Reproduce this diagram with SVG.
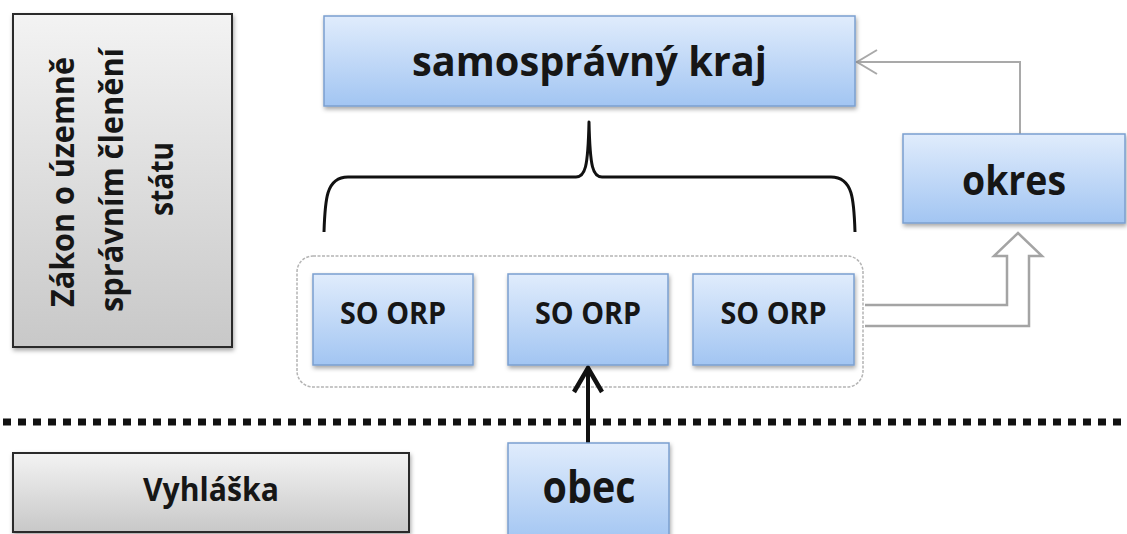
<svg xmlns="http://www.w3.org/2000/svg" width="1127" height="534" viewBox="0 0 1127 534">
<style>
.blue{fill:url(#gBlue);stroke:#7b9fcf;stroke-width:1.5;filter:url(#sh)}
.gray{fill:url(#gGray);stroke:#2b2b2b;stroke-width:2;filter:url(#sh)}
text{font-family:"Open Sans","Liberation Sans",sans-serif;font-weight:bold;fill:#161616;text-anchor:middle}
.conn{fill:none}
</style>
<defs>
<linearGradient id="gBlue" x1="0" y1="0" x2="0" y2="1">
<stop offset="0" stop-color="#e0ecfc"/>
<stop offset="1" stop-color="#a2c5f2"/>
</linearGradient>
<linearGradient id="gGray" x1="0" y1="0" x2="0" y2="1">
<stop offset="0" stop-color="#f3f3f3"/>
<stop offset="1" stop-color="#c8c8c8"/>
</linearGradient>
<filter id="sh" x="-10%" y="-10%" width="120%" height="130%">
<feDropShadow dx="1" dy="2.5" stdDeviation="2" flood-color="#000" flood-opacity="0.35"/>
</filter>
<marker id="arrBlack" markerUnits="userSpaceOnUse" markerWidth="36" markerHeight="36" viewBox="-30 -18 36 36" refX="0" refY="0" orient="auto">
<path d="M-24 -14 L0 0 L-24 14" fill="none" stroke="#111" stroke-width="4.5"/>
</marker>
<marker id="arrGray" markerUnits="userSpaceOnUse" markerWidth="30" markerHeight="30" viewBox="-25 -15 30 30" refX="0" refY="0" orient="auto">
<path d="M-20 -12 L0 0 L-20 12" fill="none" stroke="#a9a9a9" stroke-width="2"/>
</marker>
</defs>
<rect width="1127" height="534" fill="#fff"/>

<g id="zakon">
<rect class="gray" x="13" y="14" width="219" height="333"/>
<text font-size="33" textLength="250" lengthAdjust="spacingAndGlyphs" transform="translate(74 182) rotate(-90)">Zákon o územně</text>
<text font-size="33" textLength="264" lengthAdjust="spacingAndGlyphs" transform="translate(123 180) rotate(-90)">správním členění</text>
<text font-size="33" textLength="74" lengthAdjust="spacingAndGlyphs" transform="translate(173 179) rotate(-90)">státu</text>
</g>

<g id="vyhlaska">
<rect class="gray" x="13" y="453" width="396" height="79"/>
<text x="211" y="501" font-size="33" textLength="136" lengthAdjust="spacingAndGlyphs">Vyhláška</text>
</g>

<g id="group-orp">
<rect x="297" y="256" width="566" height="131" rx="16" fill="none" stroke="#b4b4b4" stroke-width="1.5" stroke-dasharray="3 1.5"/>
</g>

<g id="connectors">
<line x1="3" y1="422" x2="1127" y2="422" stroke="#111" stroke-width="7" stroke-dasharray="8 7"/>
<path class="conn" d="M324 232 C325 200 326 177 348 177 H576 C585 177 588 168 589 122 C590 168 593 177 602 177 H831 C853 177 854 200 855 232" stroke="#111" stroke-width="3" stroke-linejoin="round"/>
<path class="conn" d="M588 443 V368" stroke="#111" stroke-width="4" marker-end="url(#arrBlack)"/>
<path class="conn" d="M1020 134 V62 H857" stroke="#a9a9a9" stroke-width="2" marker-end="url(#arrGray)"/>
<path d="M865 305 H1007 V256 H994 L1018 233 L1042 256 H1029 V326 H865" fill="#fff" stroke="#a4a4a4" stroke-width="2.5" stroke-linejoin="miter"/>
</g>

<g id="kraj">
<rect class="blue" x="324" y="16" width="531" height="90"/>
<text x="589.5" y="76" font-size="42" textLength="355" lengthAdjust="spacingAndGlyphs">samosprávný kraj</text>
</g>

<g id="okres">
<rect class="blue" x="903" y="134" width="222" height="89"/>
<text x="1014" y="195" font-size="42" textLength="104" lengthAdjust="spacingAndGlyphs">okres</text>
</g>

<g id="orp1">
<rect class="blue" x="313" y="274" width="160" height="91"/>
<text x="393" y="324" font-size="31" textLength="106" lengthAdjust="spacingAndGlyphs">SO ORP</text>
</g>
<g id="orp2">
<rect class="blue" x="508" y="274" width="160" height="91"/>
<text x="588" y="324" font-size="31" textLength="106" lengthAdjust="spacingAndGlyphs">SO ORP</text>
</g>
<g id="orp3">
<rect class="blue" x="693" y="274" width="161" height="91"/>
<text x="773.5" y="324" font-size="31" textLength="106" lengthAdjust="spacingAndGlyphs">SO ORP</text>
</g>

<g id="obec">
<rect class="blue" x="508" y="443" width="161" height="100"/>
<text x="589" y="503" font-size="44" textLength="93" lengthAdjust="spacingAndGlyphs">obec</text>
</g>
</svg>
